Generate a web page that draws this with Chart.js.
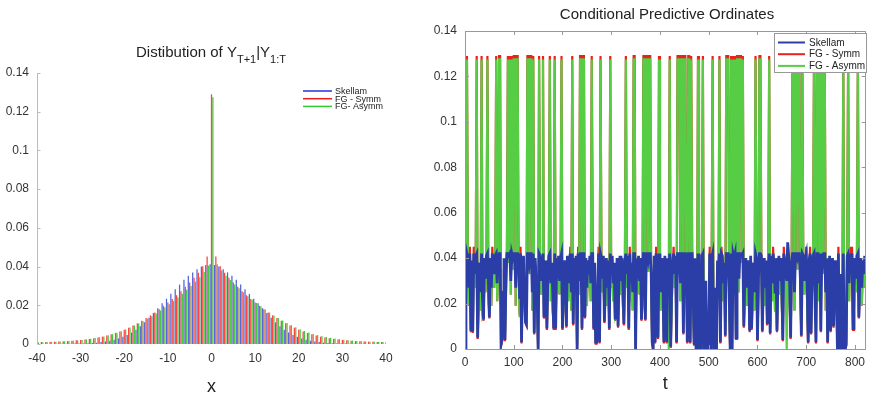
<!DOCTYPE html>
<html><head><meta charset="utf-8">
<script src="https://cdn.jsdelivr.net/npm/chart.js@4.4.0/dist/chart.umd.min.js"></script>
<style>
html,body{margin:0;padding:0;background:#fff;}
#wrap{position:relative;width:871px;height:400px;overflow:hidden;}
#c1{position:absolute;left:0;top:0;}
#c2{position:absolute;left:430px;top:0;}
</style></head><body>
<div id="wrap"><canvas id="c1" width="430" height="400"></canvas><canvas id="c2" width="441" height="400"></canvas></div>
<script>
// ---------- Left panel: predictive distribution ----------
const distX = [-40,-39,-38,-37,-36,-35,-34,-33,-32,-31,-30,-29,-28,-27,-26,-25,-24,-23,-22,-21,-20,-19,-18,-17,-16,-15,-14,-13,-12,-11,-10,-9,-8,-7,-6,-5,-4,-3,-2,-1,0,1,2,3,4,5,6,7,8,9,10,11,12,13,14,15,16,17,18,19,20,21,22,23,24,25,26,27,28,29,30,31,32,33,34,35,36,37,38,39,40];
const skellamDist = [0,0,0,0,0,.0001,.0001,.0001,.0001,.0002,.0002,.0003,.0004,.0005,.0007,.0010,.0013,.0017,.0022,.0029,.0037,.0047,.0059,.0074,.0092,.0112,.0135,.0160,.0185,.0210,.0234,.0259,.0283,.0307,.0332,.0352,.0370,.0386,.0400,.0408,
 .0412,
 .0408,.0400,.0386,.0370,.0352,.0332,.0307,.0283,.0259,.0234,.0210,.0185,.0160,.0135,.0112,.0092,.0074,.0059,.0047,.0037,.0029,.0022,.0017,.0013,.0010,.0007,.0005,.0004,.0003,.0002,.0002,.0001,.0001,.0001,.0001,0,0,0,0,0];
const fgSymmDist = [.0009,.0010,.0010,.0011,.0012,.0013,.0014,.0015,.0017,.0019,.0021,.0023,.0026,.0030,.0034,.0038,.0044,.0050,.0057,.0065,.0074,.0084,.0095,.0107,.0120,.0134,.0148,.0163,.0180,.0197,.0215,.0233,.0252,.0273,.0296,.0318,.0342,.0368,.0402,.0452,
 .1290,
 .0452,.0402,.0368,.0342,.0318,.0296,.0273,.0252,.0233,.0215,.0197,.0180,.0163,.0148,.0134,.0120,.0107,.0095,.0084,.0074,.0065,.0057,.0050,.0044,.0038,.0034,.0030,.0026,.0023,.0021,.0019,.0017,.0015,.0014,.0013,.0012,.0011,.0010,.0010,.0009];
const fgAsymmDist = [.0009,.0009,.0010,.0011,.0012,.0013,.0014,.0015,.0017,.0019,.0021,.0024,.0027,.0031,.0035,.0039,.0045,.0051,.0058,.0066,.0075,.0085,.0095,.0106,.0118,.0131,.0144,.0158,.0173,.0189,.0205,.0222,.0240,.0260,.0280,.0300,.0322,.0345,.0372,.0405,
 .1275,
 .0412,.0380,.0352,.0330,.0308,.0288,.0267,.0247,.0229,.0212,.0195,.0178,.0162,.0147,.0134,.0121,.0108,.0097,.0086,.0076,.0067,.0059,.0052,.0046,.0040,.0036,.0032,.0028,.0025,.0022,.0020,.0018,.0016,.0015,.0013,.0012,.0011,.0011,.0010,.0010];
const distXTicks = ['-40','-30','-20','-10','0','10','20','30','40'];
const probTicks = ['0','0.02','0.04','0.06','0.08','0.1','0.12','0.14'];

// ---------- Right panel: conditional predictive ordinates (t = 0,2,4,...,820) ----------
const cpoTStep = 2;
const cpoSkellam = [
.000,.030,.042,.040,.027,.042,.008,.039,.0077,.042,
.033,.041,.042,.005,.029,.038,.025,.042,.022,.013,
.040,.031,.041,.042,.030,.014,.040,.027,.042,.039,
.033,.041,.042,.029,.038,.042,.042,.002,.004,.025,
.040,.004,.031,.042,.042,.041,.042,.030,.042,.040,
.042,.042,.027,.042,.042,.039,.022,.042,.003,.033,
.041,.029,.012,.011,.042,.042,.038,.042,.042,.025,
.042,.007,.040,.031,.025,.000,.042,.041,.030,.040,
.042,.014,.027,.039,.009,.033,.041,.042,.029,.038,
.025,.009,.042,.009,.040,.031,.041,.030,.040,.042,
.009,.027,.039,.033,.010,.041,.029,.038,.042,.025,
.042,.011,.040,.031,.041,.000,.042,.030,.042,.042,
.009,.042,.042,.014,.040,.027,.039,.033,.041,.029,
.042,.042,.009,.038,.003,.003,.025,.042,.003,.042,
.040,.031,.041,.012,.030,.040,.027,.039,.009,.042,
.033,.041,.029,.038,.013,.025,.040,.010,.031,.041,
.030,.040,.027,.011,.039,.042,.033,.041,.009,.042,
.029,.038,.025,.042,.042,.000,.040,.031,.041,.030,
.040,.013,.027,.042,.042,.013,.042,.042,.039,.042,
.042,.033,.003,.000,.041,.003,.042,.029,.005,.042,
.038,.025,.040,.031,.003,.041,.030,.003,.040,.030,
.042,.001,.027,.039,.042,.033,.041,.003,.042,.042,
.042,.029,.042,.042,.007,.042,.042,.038,.003,.042,
.042,.003,.042,.042,.025,.002,.040,.000,.000,.042,
.000,.031,.000,.041,.042,.000,.002,.030,.000,.004,
.000,.042,.000,.040,.042,.000,.003,.027,.000,.039,
.033,.042,.003,.042,.041,.029,.038,.006,.042,.042,
.042,.025,.000,.042,.000,.042,.040,.042,.005,.042,
.042,.031,.042,.042,.041,.042,.010,.030,.040,.027,
.039,.033,.008,.041,.009,.029,.038,.025,.042,.040,
.004,.031,.042,.042,.041,.008,.030,.040,.027,.039,
.011,.033,.042,.007,.041,.029,.042,.038,.025,.040,
.008,.031,.041,.030,.040,.027,.004,.042,.039,.033,
.030,.047,.041,.029,.005,.038,.042,.042,.025,.042,
.042,.040,.042,.042,.031,.006,.042,.041,.030,.040,
.042,.027,.003,.039,.042,.007,.033,.041,.042,.042,
.003,.042,.042,.029,.042,.008,.042,.038,.042,.042,
.025,.040,.003,.031,.041,.008,.030,.040,.010,.027,
.039,.026,.000,.042,.000,.033,.000,.002,.042,.000,
.000,.002,.041,.042,.029,.042,.038,.042,.009,.025,
.040,.031,.041,.042,.014,.030,.040,.027,.039,.033,
.041];
const cpoFGSymm = [
.129,.024,.129,.035,.019,.045,.0074,.034,.0071,.045,
.027,.038,.129,.0044,.021,.033,.017,.129,.015,.0124,
.035,.025,.038,.129,.024,.0134,.035,.019,.045,.034,
.027,.038,.129,.021,.033,.129,.129,.0014,.0034,.017,
.035,.0034,.025,.045,.129,.038,.129,.024,.129,.035,
.129,.129,.019,.129,.129,.034,.015,.045,.0024,.027,
.038,.021,.0114,.0104,.129,.129,.033,.129,.129,.017,
.129,.0064,.035,.025,.020,.000,.129,.038,.024,.035,
.129,.0134,.019,.034,.0084,.027,.038,.129,.021,.033,
.017,.0084,.129,.0084,.035,.025,.038,.024,.035,.129,
.0084,.019,.034,.027,.0094,.038,.021,.033,.045,.017,
.129,.0104,.035,.025,.038,.000,.045,.024,.129,.129,
.0084,.129,.129,.0134,.035,.019,.034,.027,.038,.021,
.129,.045,.0084,.033,.0024,.0024,.017,.045,.0024,.129,
.035,.025,.038,.0114,.024,.035,.019,.034,.0084,.129,
.027,.038,.021,.033,.0124,.017,.035,.0094,.025,.038,
.024,.035,.019,.0104,.034,.129,.027,.038,.0084,.045,
.021,.033,.017,.129,.129,.000,.035,.025,.038,.024,
.035,.0124,.019,.129,.129,.0124,.129,.129,.034,.129,
.129,.027,.0024,.000,.038,.0024,.045,.021,.0044,.129,
.033,.017,.035,.025,.0024,.038,.024,.0024,.035,.025,
.129,.0004,.019,.034,.045,.027,.038,.0024,.129,.129,
.129,.021,.129,.129,.0064,.129,.129,.033,.0024,.129,
.129,.0024,.129,.045,.017,.0014,.035,.000,.000,.129,
.000,.025,.000,.038,.129,.000,.0014,.024,.000,.0034,
.000,.045,.000,.035,.129,.000,.0024,.019,.000,.034,
.027,.129,.0024,.045,.038,.021,.033,.0054,.129,.129,
.129,.017,.000,.129,.000,.129,.035,.129,.0044,.129,
.129,.025,.129,.129,.038,.129,.0094,.024,.035,.019,
.034,.027,.0074,.038,.0084,.021,.033,.017,.129,.035,
.0034,.025,.129,.129,.038,.0074,.024,.035,.019,.034,
.0104,.027,.129,.0064,.038,.021,.045,.033,.017,.035,
.0074,.025,.038,.024,.035,.019,.0034,.045,.034,.027,
.028,.040,.038,.021,.0044,.033,.129,.129,.017,.129,
.129,.035,.129,.129,.025,.0054,.129,.038,.024,.035,
.045,.019,.0024,.034,.045,.0064,.027,.038,.129,.129,
.0024,.129,.129,.021,.129,.0074,.129,.033,.129,.129,
.017,.035,.0024,.025,.038,.0074,.024,.035,.0094,.019,
.034,.022,.000,.045,.000,.027,.000,.0014,.129,.000,
.000,.0014,.038,.129,.021,.045,.033,.045,.0084,.017,
.035,.025,.038,.129,.0134,.024,.035,.019,.034,.027,
.038];
const cpoFGAsymm = [
.1275,.024,.1275,.035,.019,.040,.010,.034,.0097,.040,
.027,.038,.1275,.007,.021,.033,.017,.1275,.014,.015,
.035,.025,.038,.1275,.024,.016,.035,.019,.040,.034,
.027,.038,.1275,.021,.033,.1275,.1275,.004,.006,.017,
.035,.006,.025,.040,.1275,.038,.1275,.024,.1275,.035,
.1275,.1275,.019,.1275,.1275,.034,.014,.040,.005,.027,
.038,.021,.014,.013,.1275,.1275,.033,.1275,.1275,.017,
.1275,.009,.035,.025,.020,.002,.1275,.038,.024,.035,
.1275,.016,.019,.034,.011,.027,.038,.1275,.021,.033,
.017,.011,.1275,.011,.035,.025,.038,.024,.035,.1275,
.011,.019,.034,.027,.012,.038,.021,.033,.040,.017,
.1275,.013,.035,.025,.038,.002,.040,.024,.1275,.1275,
.011,.1275,.1275,.016,.035,.019,.034,.027,.038,.021,
.1275,.040,.011,.033,.005,.005,.017,.040,.005,.1275,
.035,.025,.038,.014,.024,.035,.019,.034,.011,.1275,
.027,.038,.021,.033,.015,.017,.035,.012,.025,.038,
.024,.035,.019,.013,.034,.1275,.027,.038,.011,.040,
.021,.033,.017,.1275,.1275,.002,.035,.025,.038,.024,
.035,.015,.019,.1275,.1275,.015,.1275,.1275,.034,.1275,
.1275,.027,.005,.002,.038,.005,.040,.021,.007,.1275,
.033,.017,.035,.025,.005,.038,.024,.005,.035,.000,
.1275,.003,.019,.034,.040,.027,.038,.005,.1275,.1275,
.1275,.021,.1275,.1275,.009,.1275,.1275,.033,.005,.1275,
.1275,.005,.1275,.040,.017,.004,.035,.002,.002,.1275,
.002,.025,.002,.038,.1275,.002,.004,.024,.002,.006,
.002,.040,.002,.035,.1275,.002,.005,.019,.002,.034,
.027,.1275,.005,.040,.038,.021,.033,.008,.1275,.1275,
.1275,.017,.002,.1275,.002,.1275,.035,.1275,.007,.1275,
.1275,.025,.1275,.1275,.038,.1275,.012,.024,.035,.019,
.034,.027,.010,.038,.011,.021,.033,.017,.1275,.035,
.006,.025,.1275,.1275,.038,.010,.024,.035,.019,.034,
.013,.027,.1275,.009,.038,.021,.040,.033,.017,.035,
.010,.025,.038,.024,.035,.019,.006,.040,.034,.027,
.000,.040,.038,.021,.007,.033,.1275,.1275,.017,.1275,
.1275,.035,.1275,.1275,.025,.008,.1275,.038,.024,.035,
.040,.019,.005,.034,.040,.009,.027,.038,.1275,.1275,
.005,.1275,.1275,.021,.1275,.010,.1275,.033,.1275,.1275,
.017,.035,.005,.025,.038,.010,.024,.035,.012,.019,
.034,.022,.002,.040,.002,.027,.002,.004,.1275,.002,
.002,.004,.038,.1275,.021,.040,.033,.040,.011,.017,
.035,.025,.038,.1275,.016,.024,.035,.019,.034,.027,
.038];
const cpoTTicks = ['0','100','200','300','400','500','600','700','800'];

// ---------- helpers ----------
const FONT = "'Liberation Sans', Arial, Helvetica, sans-serif";
Chart.defaults.font.family = FONT;
Chart.defaults.color = '#333';

const titlePlugin = {
  id: 'subTitle',
  afterDraw(chart, args, o) {
    const ctx = chart.ctx; ctx.save();
    ctx.fillStyle = o.color; ctx.textBaseline = 'alphabetic';
    const widths = o.parts.map(p => { ctx.font = (p.sub ? o.subSize : o.size) + 'px ' + FONT; return ctx.measureText(p.text).width; });
    let x = o.x - widths.reduce((a, b) => a + b, 0) / 2;
    o.parts.forEach((p, i) => {
      ctx.font = (p.sub ? o.subSize : o.size) + 'px ' + FONT;
      ctx.fillText(p.text, x, o.y + (p.sub ? o.subShift : 0));
      x += widths[i];
    });
    ctx.restore();
  }
};

const legendPlugin = {
  id: 'lineLegend',
  afterDraw(chart, args, o) {
    const ctx = chart.ctx; ctx.save();
    if (o.box) {
      ctx.fillStyle = '#fff'; ctx.fillRect(o.box[0], o.box[1], o.box[2], o.box[3]);
      ctx.strokeStyle = o.boxColor; ctx.lineWidth = 1;
      ctx.strokeRect(o.box[0] + 0.5, o.box[1] + 0.5, o.box[2], o.box[3]);
    }
    ctx.font = o.fontSize + 'px ' + FONT; ctx.textBaseline = 'middle';
    chart.data.datasets.forEach((ds, i) => {
      const y = o.y + i * o.rowH;
      ctx.strokeStyle = ds.legendColor; ctx.lineWidth = o.lineW;
      ctx.beginPath(); ctx.moveTo(o.x, y); ctx.lineTo(o.x + o.lineLen, y); ctx.stroke();
      ctx.fillStyle = '#222';
      ctx.fillText(ds.label, o.x + o.lineLen + o.gap, y + 0.5);
    });
    ctx.restore();
  }
};

const framePlugin = {
  id: 'frame',
  afterDatasetsDraw(chart, args, o) {
    const ctx = chart.ctx, a = chart.chartArea; ctx.save();
    ctx.strokeStyle = o.color; ctx.lineWidth = 1;
    const xs = chart.scales.x, ys = chart.scales.y, L = o.tick;
    ctx.beginPath();
    if (o.box) {
      ctx.rect(Math.round(a.left) + 0.5, Math.round(a.top) + 0.5, Math.round(a.right - a.left) - 1, Math.round(a.bottom - a.top));
      xs.ticks.forEach(t => { const px = Math.round(xs.getPixelForValue(t.value)) + 0.5;
        ctx.moveTo(px, a.top); ctx.lineTo(px, a.top + L); ctx.moveTo(px, a.bottom); ctx.lineTo(px, a.bottom - L); });
      ys.ticks.forEach(t => { const py = Math.round(ys.getPixelForValue(t.value)) + 0.5;
        ctx.moveTo(a.left, py); ctx.lineTo(a.left + L, py); ctx.moveTo(a.right, py); ctx.lineTo(a.right - L, py); });
    } else {
      const lx = Math.round(a.left) + 0.5;
      ctx.moveTo(lx, a.top); ctx.lineTo(lx, a.bottom);
      ys.ticks.forEach(t => { const py = Math.round(ys.getPixelForValue(t.value)) + 0.5;
        ctx.moveTo(lx, py); ctx.lineTo(lx + L, py); });
    }
    ctx.stroke(); ctx.restore();
  }
};

// ---------- Left chart ----------
const mk = arr => arr.map((y, i) => ({ x: distX[i], y }));
new Chart(document.getElementById('c1'), {
  type: 'bar',
  data: { datasets: [
    { label: 'Skellam', data: mk(skellamDist), backgroundColor: '#5566dd', legendColor: '#2233dd' },
    { label: 'FG - Symm', data: mk(fgSymmDist), backgroundColor: '#ff4444', legendColor: '#ee1c1c' },
    { label: 'FG- Asymm', data: mk(fgAsymmDist), backgroundColor: '#3fcc3f', legendColor: '#33cc33' }
  ]},
  options: {
    responsive: false, animation: false, devicePixelRatio: 1,
    layout: { padding: { left: 0, top: 73, right: 44, bottom: 0 } },
    datasets: { bar: { categoryPercentage: 0.95, barPercentage: 0.92 } },
    plugins: {
      legend: { display: false }, tooltip: { enabled: false },
      subTitle: { parts: [{ text: 'Distibution of Y' }, { text: 'T+1', sub: true }, { text: '|Y' }, { text: '1:T', sub: true }],
        x: 211, y: 57, size: 15, subSize: 11, subShift: 6, color: '#222' },
      lineLegend: { x: 303, y: 91, rowH: 7.7, lineLen: 29, gap: 3, lineW: 1.5, fontSize: 9 },
      frame: { box: false, color: '#bbb', tick: 3 }
    },
    scales: {
      x: { type: 'linear', min: -40, max: 40, offset: false,
        grid: { display: false, drawTicks: false }, border: { display: false },
        ticks: { stepSize: 10, padding: 7, font: { size: 12 }, color: '#333', maxRotation: 0,
          callback: (v, i) => distXTicks[i] },
        title: { display: true, text: 'x', font: { size: 18 }, color: '#222', padding: { top: 0, bottom: 2 } },
        afterFit: s => { s.height = 56; } },
      y: { min: 0, max: 0.14,
        grid: { display: false, drawTicks: false }, border: { display: false },
        ticks: { stepSize: 0.02, padding: 8, font: { size: 12 }, color: '#333',
          callback: (v, i) => probTicks[i] },
        afterFit: s => { s.width = 37; } }
    }
  },
  plugins: [titlePlugin, legendPlugin, framePlugin]
});

// ---------- Right chart ----------
const mkT = arr => arr.map((y, i) => ({ x: i * cpoTStep, y }));
new Chart(document.getElementById('c2'), {
  type: 'line',
  data: { datasets: [
    { label: 'Skellam', data: mkT(cpoSkellam), borderColor: '#2b3ea8', legendColor: '#2b3ea8', borderWidth: 2.8, order: 0 },
    { label: 'FG - Symm', data: mkT(cpoFGSymm), borderColor: '#e8231b', legendColor: '#e8231b', borderWidth: 2.2, order: 2 },
    { label: 'FG - Asymm', data: mkT(cpoFGAsymm), borderColor: '#57cc45', legendColor: '#57cc45', borderWidth: 2.2, order: 1 }
  ]},
  options: {
    responsive: false, animation: false, devicePixelRatio: 1, parsing: false, normalized: true,
    layout: { padding: { left: 0, top: 31, right: 1, bottom: 0 } },
    elements: { line: { tension: 0 }, point: { radius: 0 } },
    plugins: {
      legend: { display: false }, tooltip: { enabled: false },
      subTitle: { parts: [{ text: 'Conditional Predictive Ordinates' }], x: 237, y: 19, size: 15, subSize: 11, subShift: 0, color: '#222' },
      lineLegend: { box: [344, 33, 92, 39], boxColor: '#999', x: 348, y: 42.5, rowH: 11.7, lineLen: 27, gap: 4, lineW: 2, fontSize: 10 },
      frame: { box: true, color: '#999', tick: 4 }
    },
    scales: {
      x: { type: 'linear', min: 0, max: 822,
        grid: { display: false, drawTicks: false }, border: { display: false },
        ticks: { stepSize: 100, includeBounds: false, padding: 6, font: { size: 12 }, color: '#333', maxRotation: 0,
          callback: (v, i) => cpoTTicks[i] },
        title: { display: true, text: 't', font: { size: 18 }, color: '#222', padding: { top: 0, bottom: 5 } },
        afterFit: s => { s.height = 51; } },
      y: { min: 0, max: 0.14,
        grid: { display: false, drawTicks: false }, border: { display: false },
        ticks: { stepSize: 0.02, padding: 8, font: { size: 12 }, color: '#333',
          callback: (v, i) => probTicks[i] },
        afterFit: s => { s.width = 35; } }
    }
  },
  plugins: [titlePlugin, legendPlugin, framePlugin]
});
</script>
</body></html>
